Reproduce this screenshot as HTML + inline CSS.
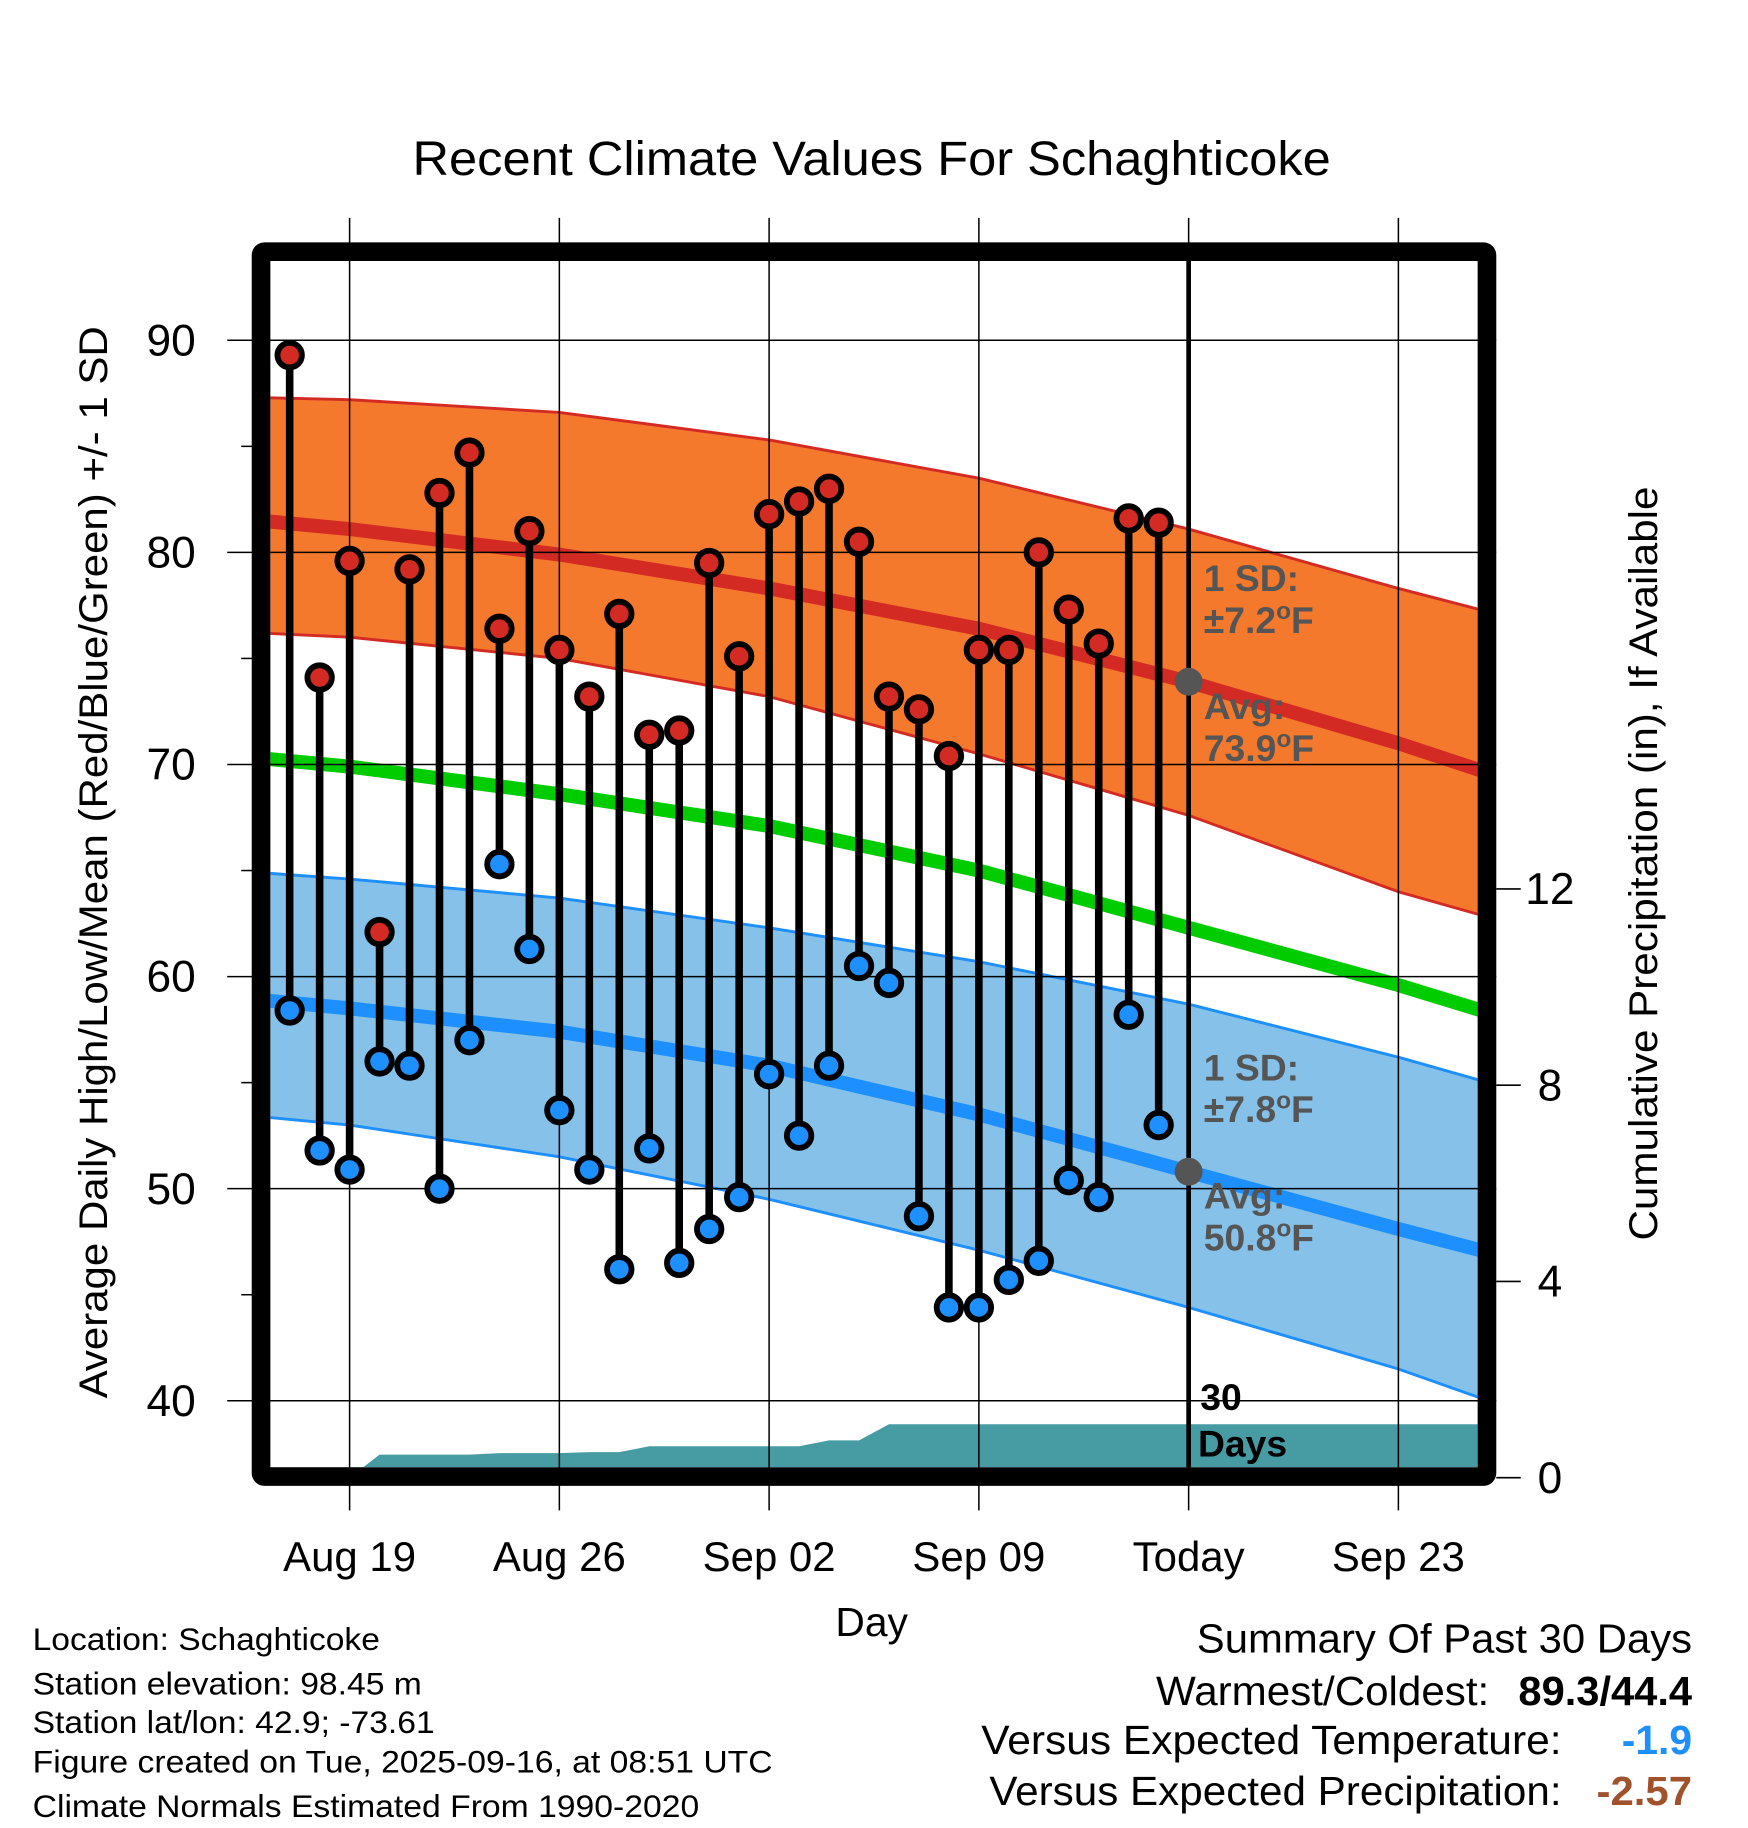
<!DOCTYPE html>
<html><head><meta charset="utf-8"><style>
html,body{margin:0;padding:0;background:#fff}
svg{display:block}
text{font-family:"Liberation Sans",Arial,sans-serif}
</style></head><body>
<svg id="chart" width="1748" height="1828" viewBox="0 0 1500 1568.6" preserveAspectRatio="none" xmlns="http://www.w3.org/2000/svg"></svg>
<script>
// ---- data ----
const obsDays = ["Aug17","Aug18","Aug19","Aug20","Aug21","Aug22","Aug23","Aug24","Aug25","Aug26","Aug27","Aug28","Aug29","Aug30","Aug31","Sep01","Sep02","Sep03","Sep04","Sep05","Sep06","Sep07","Sep08","Sep09","Sep10","Sep11","Sep12","Sep13","Sep14","Sep15"];
const highs = [89.3,74.1,79.6,62.1,79.2,82.8,84.7,76.4,81.0,75.4,73.2,77.1,71.4,71.6,79.5,75.1,81.8,82.4,83.0,80.5,73.2,72.6,70.4,75.4,75.4,80.0,77.3,75.7,81.6,81.4];
const lows = [58.4,51.8,50.9,56.0,55.8,50.0,57.0,65.3,61.3,53.7,50.9,46.2,51.9,46.5,48.1,49.6,55.4,52.5,55.8,60.5,59.7,48.7,44.4,44.4,45.7,46.6,50.4,49.6,58.2,53.0];
const cumPrecip = [0,0,0,0.47,0.47,0.47,0.47,0.5,0.5,0.5,0.52,0.52,0.64,0.64,0.64,0.64,0.64,0.64,0.76,0.76,1.09,1.09,1.09,1.09,1.09,1.09,1.09,1.09,1.09,1.09];
// normals at day offsets from Aug 19
const normDays = [-3,0,7,14,21,28,35,38];
const normHigh = [81.5,81.1,79.9,78.3,76.4,73.9,71.0,69.6];
const highUpper = [87.3,87.2,86.6,85.3,83.5,81.1,78.3,77.2];
const highLower = [76.2,76.0,75.0,73.2,70.5,67.6,64.0,62.8];
const normMean = [70.3,69.9,68.6,67.1,65.0,62.3,59.6,58.3];
const normLow = [58.9,58.5,57.4,55.8,53.5,50.8,48.1,47.0];
const lowUpper = [64.9,64.6,63.7,62.3,60.7,58.7,56.2,55.0];
const lowLower = [53.4,53.0,51.5,49.5,47.1,44.4,41.5,40.0];
const yTicks = [40,50,60,70,80,90];
const yMinor = [45,55,65,75,85];
const pTicks = [0,4,8,12];
const xTickDays = [0,7,14,21,28,35];
const xTickLabels = ["Aug 19","Aug 26","Sep 02","Sep 09","Today","Sep 23"];
const firstObsDay = -2;

// ---- scales ----
const L=232,R=1268,T=224,B=1259;
const x = d => 300 + d*25.714;
const y = v => 1202 - (v-40)*18.2;
const py = p => 1268 - p*42.1;

const svg=document.getElementById('chart');
const NS='http://www.w3.org/2000/svg';
function el(tag,attrs,parent){const e=document.createElementNS(NS,tag);for(const k in attrs)e.setAttribute(k,attrs[k]);(parent||svg).appendChild(e);return e;}
function txt(s,attrs,parent){const e=el('text',attrs,parent);e.textContent=s;return e;}

const defs=el('defs',{});
const cp=el('clipPath',{id:'plotclip'},defs);
el('rect',{x:L,y:T,width:R-L,height:B-T},cp);

const plot=el('g',{'clip-path':'url(#plotclip)'});



function bandPath(up,lo){let p='';normDays.forEach((d,i)=>{p+=(i?'L':'M')+x(d)+','+y(up[i]);});for(let i=normDays.length-1;i>=0;i--)p+='L'+x(normDays[i])+','+y(lo[i]);return p+'Z';}
function linePath(arr){return normDays.map((d,i)=>(i?'L':'M')+x(d)+','+y(arr[i])).join('');}

const hb=el('path',{d:bandPath(highUpper,highLower),fill:'#f4792d'},plot);


el('path',{d:linePath(highUpper),fill:'none',stroke:'#d42a24','stroke-width':2.5},plot);
el('path',{d:linePath(highLower),fill:'none',stroke:'#d42a24','stroke-width':2.5},plot);
const lb=el('path',{d:bandPath(lowUpper,lowLower),fill:'#85c1e8'},plot);


el('path',{d:linePath(lowUpper),fill:'none',stroke:'#1e8fff','stroke-width':2.5},plot);
el('path',{d:linePath(lowLower),fill:'none',stroke:'#1e8fff','stroke-width':2.5},plot);

// precipitation area
let pp='M'+L+','+B+'L'+x(firstObsDay)+','+py(cumPrecip[0]);
cumPrecip.forEach((v,i)=>{pp+='L'+x(firstObsDay+i)+','+py(v);});
pp+='L'+R+','+py(cumPrecip[cumPrecip.length-1])+'L'+R+','+B+'Z';
const pa=el('path',{d:pp,fill:'#479ca4'},plot);



// grid
yTicks.forEach(v=>{el('line',{x1:195,x2:R+16,y1:y(v),y2:y(v),stroke:'#000','stroke-width':1.3});});
yMinor.forEach(v=>{el('line',{x1:207,x2:218,y1:y(v),y2:y(v),stroke:'#000','stroke-width':1.3});});
xTickDays.forEach(d=>{el('line',{x1:x(d),x2:x(d),y1:187,y2:1296,stroke:'#000','stroke-width':1.3});});

// normal lines
const ml=el('path',{d:linePath(normHigh),fill:'none',stroke:'#d42a24','stroke-width':12},plot);


const gl=el('path',{d:linePath(normMean),fill:'none',stroke:'#00cc00','stroke-width':12},plot);


const bl=el('path',{d:linePath(normLow),fill:'none',stroke:'#1e8fff','stroke-width':12},plot);



// today line
el('line',{x1:x(28),x2:x(28),y1:T,y2:B,stroke:'#000','stroke-width':4});

// stems + markers
highs.forEach((h,i)=>{
  const g=el('g',{});
  
  
  const xx=x(firstObsDay+i);
  el('line',{x1:xx,x2:xx,y1:y(h),y2:y(lows[i]),stroke:'#000','stroke-width':6.5},g);
  const c1=el('circle',{cx:xx,cy:y(h),r:10.5,fill:'#d42a24',stroke:'#000','stroke-width':5},g);
  
  
  const c2=el('circle',{cx:xx,cy:y(lows[i]),r:10.5,fill:'#1e8fff',stroke:'#000','stroke-width':5},g);
  
  
});

// today normal dots
el('circle',{cx:x(28),cy:y(normHigh[5]),r:12,fill:'#555'});
el('circle',{cx:x(28),cy:y(normLow[5]),r:12,fill:'#555'});

// annotations
function ann(lines,yy,name){const t=el('g',{});
 lines.forEach((s,i)=>{const e=txt('',{x:1033,y:yy+i*36,'font-size':32,'font-weight':'bold',fill:'#555'},t);
  if(s.indexOf('°')>=0){const parts=s.split('°');e.appendChild(document.createTextNode(parts[0]));const ts=document.createElementNS(NS,'tspan');ts.setAttribute('dy',-12);ts.setAttribute('font-size',21);ts.textContent='o';e.appendChild(ts);const ts2=document.createElementNS(NS,'tspan');ts2.setAttribute('dy',12);ts2.textContent=parts[1];e.appendChild(ts2);}else e.textContent=s;});}
ann(['1 SD:','±7.2°F'],507,'high-sd-label');
ann(['Avg:','73.9°F'],617,'high-avg-label');
ann(['1 SD:','±7.8°F'],927,'low-sd-label');
ann(['Avg:','50.8°F'],1037,'low-avg-label');
const d30=el('g',{});
txt('30',{x:1030,y:1210,'font-size':32,'font-weight':'bold',fill:'#000'},d30);
txt('Days',{x:1028,y:1250,'font-size':32,'font-weight':'bold',fill:'#000'},d30);

// frame
const fr=el('rect',{x:224,y:216,width:1052,height:1051,fill:'none',stroke:'#000','stroke-width':16,rx:3});



// y labels
yTicks.forEach(v=>{const t=txt(String(v),{x:168,y:y(v)+13,'font-size':38,'text-anchor':'end'});});
// right axis
pTicks.forEach(p=>{el('line',{x1:1284,x2:1305,y1:py(p),y2:py(p),stroke:'#000','stroke-width':1.3});
 const t=txt(String(p),{x:1330,y:py(p)+13,'font-size':38,'text-anchor':'middle'});});
// x labels
xTickLabels.forEach((s,i)=>{const t=txt(s,{x:x(xTickDays[i]),y:1348,'font-size':36,'text-anchor':'middle'});});
</script>
<svg style="position:absolute;left:0;top:0" width="1748" height="1828" viewBox="0 0 1500 1568.6" preserveAspectRatio="none" xmlns="http://www.w3.org/2000/svg">
<text x="748" y="150" font-size="41" text-anchor="middle" textLength="788" lengthAdjust="spacingAndGlyphs">Recent Climate Values For Schaghticoke</text>
<text x="748" y="1404" font-size="35" text-anchor="middle">Day</text>
<text transform="translate(92,740) rotate(-90)" font-size="34" text-anchor="middle" textLength="920" lengthAdjust="spacingAndGlyphs">Average Daily High/Low/Mean (Red/Blue/Green) +/- 1 SD</text>
<text transform="translate(1422,741) rotate(-90)" font-size="34" text-anchor="middle" textLength="647" lengthAdjust="spacingAndGlyphs">Cumulative Precipitation (in), If Available</text>
<g font-size="27">
<text x="28" y="1416" textLength="298" lengthAdjust="spacingAndGlyphs">Location: Schaghticoke</text>
<text x="28" y="1454" textLength="334" lengthAdjust="spacingAndGlyphs">Station elevation: 98.45 m</text>
<text x="28" y="1487" textLength="345" lengthAdjust="spacingAndGlyphs">Station lat/lon: 42.9; -73.61</text>
<text x="28" y="1521" textLength="635" lengthAdjust="spacingAndGlyphs">Figure created on Tue, 2025-09-16, at 08:51 UTC</text>
<text x="28" y="1559" textLength="572" lengthAdjust="spacingAndGlyphs">Climate Normals Estimated From 1990-2020</text>
</g>
<g font-size="35">
<text x="1027" y="1418" textLength="425" lengthAdjust="spacingAndGlyphs">Summary Of Past 30 Days</text>
<text x="992" y="1463" textLength="286" lengthAdjust="spacingAndGlyphs">Warmest/Coldest:</text>
<text x="1303" y="1463" font-weight="bold" textLength="149" lengthAdjust="spacingAndGlyphs">89.3/44.4</text>
<text x="842" y="1505" textLength="498" lengthAdjust="spacingAndGlyphs">Versus Expected Temperature:</text>
<text x="1452" y="1505" text-anchor="end" font-weight="bold" fill="#1e8fff">-1.9</text>
<text x="849" y="1549" textLength="491" lengthAdjust="spacingAndGlyphs">Versus Expected Precipitation:</text>
<text x="1370" y="1549" font-weight="bold" fill="#a0522d" textLength="82" lengthAdjust="spacingAndGlyphs">-2.57</text>
</g>
</svg>
</body></html>
